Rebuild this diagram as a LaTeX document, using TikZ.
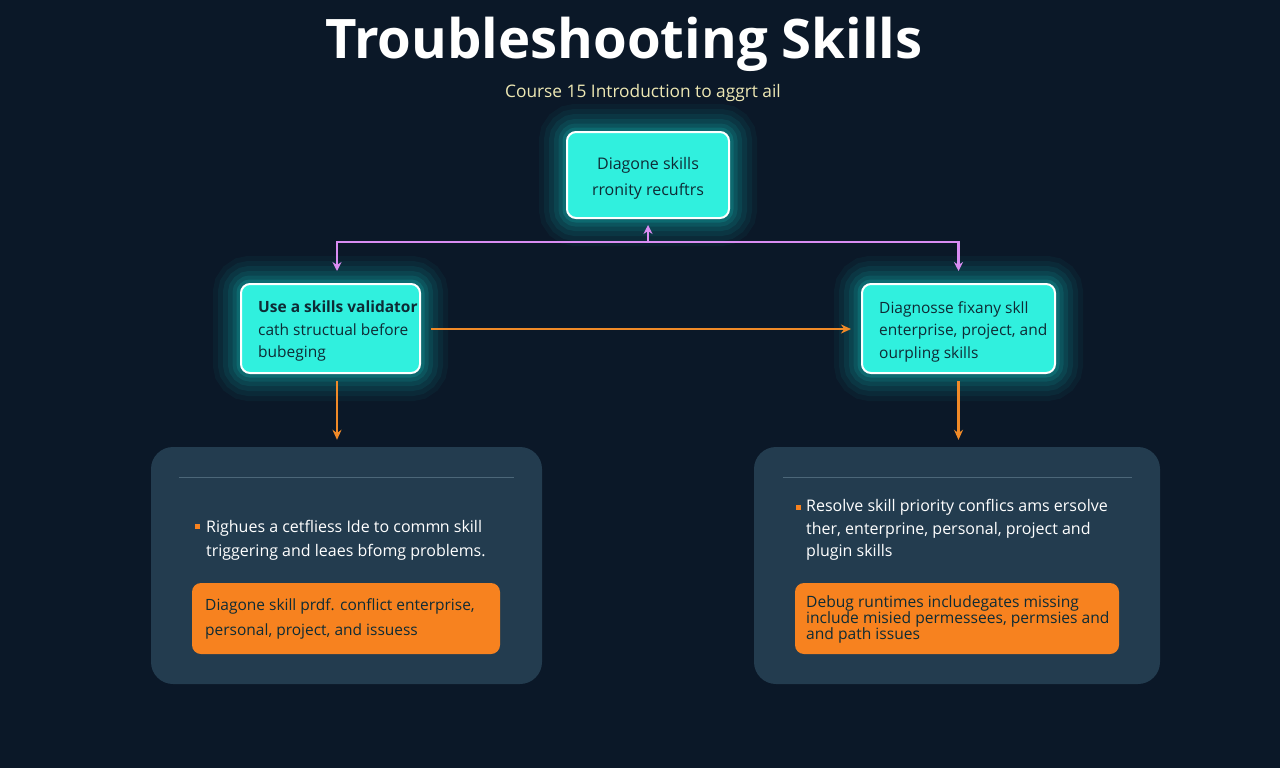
\documentclass[tikz,border=0pt]{standalone}
\usepackage{fontspec}
\setmainfont{Open Sans}
\usepackage{xcolor}
\definecolor{pageBack}   {HTML}{0B1828}
\definecolor{panelBack}  {HTML}{233C4F}
\definecolor{ruleLine}   {HTML}{4C6779}
\definecolor{skillCyan}  {HTML}{30F0DE}
\definecolor{glowCyan}   {HTML}{12A8A6}
\definecolor{inkDark}    {HTML}{0E2B35}
\definecolor{noteOrange} {HTML}{F7821F}
\definecolor{flowOrange} {HTML}{F08A28}
\definecolor{hubViolet}  {HTML}{D98CF2}
\definecolor{subYellow}  {HTML}{EEE8B4}
\usetikzlibrary{arrows.meta, positioning, calc}
\tikzset{
    skillbox/.style={draw=white, line width=2pt, rounded corners=9pt,
                     fill=skillCyan, text=inkDark, align=left,
                     inner sep=0pt,
                     preaction={draw=glowCyan, line width=56pt, opacity=0.06},
                     preaction={draw=glowCyan, line width=46pt, opacity=0.08},
                     preaction={draw=glowCyan, line width=36pt, opacity=0.10},
                     preaction={draw=glowCyan, line width=26pt, opacity=0.13},
                     preaction={draw=glowCyan, line width=17pt, opacity=0.17},
                     preaction={draw=glowCyan, line width=9pt, opacity=0.25}},
    panel/.style={fill=panelBack, rounded corners=22pt, inner sep=0pt},
    notebox/.style={fill=noteOrange, rounded corners=9pt, inner sep=0pt},
    hublink/.style={-{Stealth[length=9pt, width=9pt]}, hubViolet, line width=2.2pt},
    flowlink/.style={-{Stealth[length=10pt, width=9pt]}, flowOrange, line width=2.2pt},
    bodytext/.style={anchor=west, align=left, inner sep=0pt, text=white,
                     font=\fontsize{16}{24}\selectfont},
    notetext/.style={anchor=west, align=left, inner sep=0pt, text=inkDark},
    bullet/.style={fill=noteOrange, minimum size=5pt, inner sep=0pt},
}

\begin{document}
\begin{tikzpicture}[x=1pt, y=-1pt]
% Page.
\fill[pageBack] (0,0) rectangle (1280,768);
\useasboundingbox (0,0) rectangle (1280,768);
% Heading.
\node[text=white, font=\bfseries\fontsize{54.5}{60}\selectfont] (title) at (624,44) {Troubleshooting Skills};
\node[text=subYellow, font=\fontsize{17.3}{20}\selectfont] (subtitle) at (643,93) {Course 15 Introduction to aggrt ail};
% Three skill boxes.
\node[skillbox, minimum width=162pt, minimum height=86pt, align=center,
      font=\fontsize{16}{26}\selectfont] (top) at (648,175)
     {};
\node[align=center, inner sep=0pt, text=inkDark,
      font=\fontsize{16}{26}\selectfont] (toptext) at (648,178)
     {Diagone skills\\rronity recuftrs};
\node[skillbox, minimum width=179pt, minimum height=89pt] (left) at (330.5,328.5) {};
\node[skillbox, minimum width=193pt, minimum height=89pt] (right) at (958.5,328.5) {};
\node[anchor=north west, align=left, inner sep=0pt, text=inkDark,
      font=\fontsize{15.5}{22.5}\selectfont] (lefttext) at (258,301)
     {\textbf{Use a skills validator}\\cath structual before\\bubeging};
\node[anchor=north west, align=left, inner sep=0pt, text=inkDark,
      font=\fontsize{15.5}{22.5}\selectfont] (righttext) at (879,301)
     {Diagnosse fixany skll\\enterprise, project, and\\ourpling skills};
% Two lower panels.
\node[panel, minimum width=391pt, minimum height=237pt] (lpanel) at (346.5,565.5) {};
\node[panel, minimum width=406pt, minimum height=237pt] (rpanel) at (957,565.5) {};
\draw[ruleLine, line width=1.2pt] ([xshift=28pt, yshift=-31pt]lpanel.north west) -- ([xshift=-28pt, yshift=-31pt]lpanel.north east);
\draw[ruleLine, line width=1.2pt] ([xshift=29pt, yshift=-31pt]rpanel.north west) -- ([xshift=-28pt, yshift=-31pt]rpanel.north east);
\node[bullet] (lbullet) at (197,526) {};
\node[bodytext] (ltext) at (206,540)
     {Righues a cetfliess Ide to comm\kern-0.5pt n skill\\triggering and leaes bfomg problems.};
\node[bullet] (rbullet) at (798,507) {};
\node[bodytext, font=\fontsize{16}{22.5}\selectfont] (rtext) at (806,530)
     {Resolve skill priority conflics ams ersolve\\ther, enterprine, personal, project and\\plugin skills};
\node[notebox, minimum width=308pt, minimum height=71pt] (lnote) at (346,618.5) {};
\node[notetext, font=\fontsize{15.5}{25}\selectfont] (lnotetext) at (205,619)
     {Diagone skill prdf. conflict enterprise,\\personal, project, and issuess};
\node[notebox, minimum width=324pt, minimum height=71pt] (rnote) at (957,618.5) {};
\node[notetext, font=\fontsize{15.6}{16}\selectfont] (rnotetext) at (806,619)
     {Debug runtimes includegates missing\\include misied permessees, permsies and\\and path issues};
% Connectors.
\coordinate (hub) at (648,242);
\draw[hublink] (hub) -- ([yshift=-6pt]top.south);
\draw[hublink] (hub) -| ([xshift=6.5pt, yshift=12pt]left.north);
\draw[hublink] (hub) -| ([yshift=12pt]right.north);
\draw[flowlink] ([xshift=10pt, yshift=-0.5pt]left.east) -- ([xshift=-10pt, yshift=-0.5pt]right.west);
\draw[flowlink] ([xshift=6.5pt, yshift=-7pt]left.south) -- ([xshift=-9.5pt, yshift=7pt]lpanel.north);
\draw[flowlink] ([yshift=-7pt]right.south) -- ([xshift=1.5pt, yshift=7pt]rpanel.north);
\end{tikzpicture}
\end{document}
